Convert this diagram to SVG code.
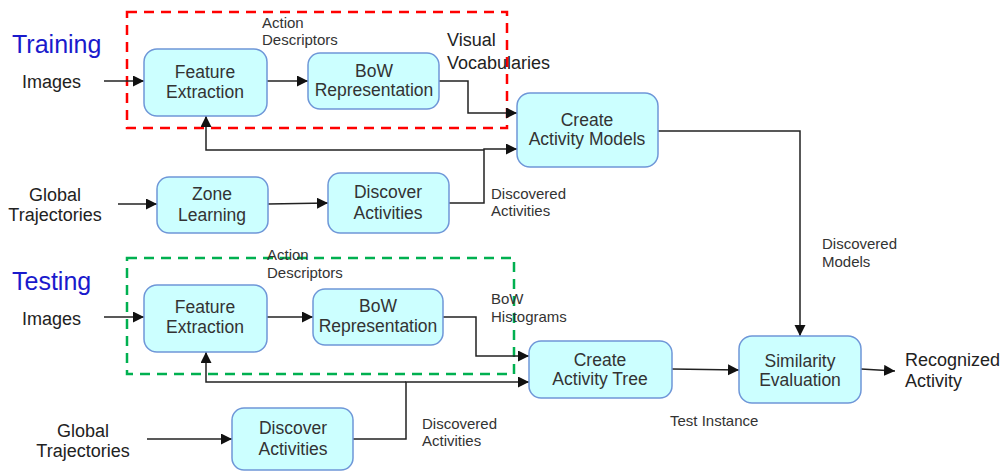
<svg xmlns="http://www.w3.org/2000/svg" width="1004" height="471" viewBox="0 0 1004 471">
<defs>
<marker id="arr" markerUnits="userSpaceOnUse" markerWidth="12" markerHeight="12" refX="11" refY="5.5" orient="auto">
<path d="M0,0 L11,5.5 L0,11 z" fill="#111"/>
</marker>
<style>
.box{fill:#ccffff;stroke:#6f97d8;stroke-width:1.5}
.bt{font-family:"Liberation Sans",Arial,sans-serif;font-size:17.5px;fill:#333;text-anchor:middle}
.lb{font-family:"Liberation Sans",Arial,sans-serif;font-size:15px;fill:#333}
.io{font-family:"Liberation Sans",Arial,sans-serif;font-size:18px;fill:#222}
.hd{font-family:"Liberation Sans",Arial,sans-serif;font-size:25px;fill:#1a1acc}
.c{fill:none;stroke:#222;stroke-width:1.5}
.ca{fill:none;stroke:#222;stroke-width:1.5;marker-end:url(#arr)}
.dash{fill:none;stroke-width:2.5;stroke-dasharray:10 7}
</style>
</defs>
<rect width="1004" height="471" fill="#fff"/>

<g id="groups">
<rect class="dash" x="127" y="12" width="380" height="116" stroke="#ff0000"/>
<rect class="dash" x="127" y="258" width="387" height="116" stroke="#00b050"/>
</g>

<g id="labels">
<text class="hd" x="12" y="53">Training</text>
<text class="hd" x="12" y="290">Testing</text>
<text class="io" x="22" y="88">Images</text>
<text class="io" x="22" y="325">Images</text>
<text class="io" text-anchor="middle"><tspan x="55" y="201">Global</tspan><tspan x="55" y="221">Trajectories</tspan></text>
<text class="io" text-anchor="middle"><tspan x="83" y="437">Global</tspan><tspan x="83" y="457">Trajectories</tspan></text>
<text class="lb"><tspan x="262" y="28">Action</tspan><tspan x="262" y="45">Descriptors</tspan></text>
<text class="lb"><tspan x="267" y="260">Action</tspan><tspan x="267" y="278">Descriptors</tspan></text>
<text class="io" fill="#111"><tspan x="447" y="46">Visual</tspan><tspan x="447" y="69">Vocabularies</tspan></text>
<text class="lb"><tspan x="491" y="199">Discovered</tspan><tspan x="491" y="216">Activities</tspan></text>
<text class="lb"><tspan x="491" y="304">BoW</tspan><tspan x="491" y="322">Histograms</tspan></text>
<text class="lb"><tspan x="422" y="429">Discovered</tspan><tspan x="422" y="446">Activities</tspan></text>
<text class="lb"><tspan x="822" y="249">Discovered</tspan><tspan x="822" y="267">Models</tspan></text>
<text class="lb" x="670" y="426">Test Instance</text>
<text class="io"><tspan x="905" y="366">Recognized</tspan><tspan x="905" y="387">Activity</tspan></text>
</g>

<g id="connectors">
<line class="ca" x1="104" y1="81" x2="144" y2="81"/>
<line class="ca" x1="267" y1="81" x2="308" y2="81"/>
<polyline class="ca" points="439,81 468,81 468,113 517,113"/>
<polyline class="ca" points="484,150 206,150 206,116"/>
<polyline class="ca" points="449,203 484,203 484,149 517,149"/>
<line class="ca" x1="118" y1="204" x2="157" y2="204"/>
<line class="ca" x1="268" y1="204" x2="328" y2="203"/>
<polyline class="ca" points="658,131 800,131 800,336"/>
<line class="ca" x1="104" y1="317" x2="144" y2="317"/>
<line class="ca" x1="267" y1="317" x2="313" y2="317"/>
<polyline class="ca" points="443,317 476,317 476,356 529,356"/>
<polyline class="ca" points="406,382 206,382 206,352"/>
<polyline class="ca" points="353,439 406,439 406,382 529,382"/>
<line class="ca" x1="147" y1="439" x2="232" y2="439"/>
<line class="ca" x1="672" y1="369" x2="739" y2="370"/>
<line class="ca" x1="861" y1="369" x2="895" y2="371"/>
</g>

<g id="fe-train"><rect class="box" x="144" y="49" width="123" height="67" rx="13"/><text class="bt"><tspan x="205" y="78">Feature</tspan><tspan x="205" y="98">Extraction</tspan></text></g>
<g id="bow-train"><rect class="box" x="308" y="53" width="131" height="56" rx="12"/><text class="bt"><tspan x="374" y="77">BoW</tspan><tspan x="374" y="96">Representation</tspan></text></g>
<g id="create-models"><rect class="box" x="517" y="93" width="141" height="74" rx="13"/><text class="bt"><tspan x="587" y="126">Create</tspan><tspan x="587" y="145">Activity Models</tspan></text></g>
<g id="zone"><rect class="box" x="157" y="177" width="111" height="56" rx="12"/><text class="bt"><tspan x="212" y="200">Zone</tspan><tspan x="212" y="221">Learning</tspan></text></g>
<g id="da-train"><rect class="box" x="328" y="173" width="121" height="60" rx="12"/><text class="bt"><tspan x="388" y="198">Discover</tspan><tspan x="388" y="219">Activities</tspan></text></g>
<g id="fe-test"><rect class="box" x="144" y="285" width="123" height="67" rx="13"/><text class="bt"><tspan x="205" y="313">Feature</tspan><tspan x="205" y="333">Extraction</tspan></text></g>
<g id="bow-test"><rect class="box" x="313" y="289" width="130" height="56" rx="12"/><text class="bt"><tspan x="378" y="312">BoW</tspan><tspan x="378" y="332">Representation</tspan></text></g>
<g id="create-tree"><rect class="box" x="529" y="341" width="143" height="57" rx="12"/><text class="bt"><tspan x="600" y="366">Create</tspan><tspan x="600" y="385">Activity Tree</tspan></text></g>
<g id="da-test"><rect class="box" x="232" y="408" width="121" height="62" rx="12"/><text class="bt"><tspan x="293" y="434">Discover</tspan><tspan x="293" y="455">Activities</tspan></text></g>
<g id="similarity"><rect class="box" x="739" y="336" width="122" height="67" rx="13"/><text class="bt"><tspan x="800" y="367">Similarity</tspan><tspan x="800" y="386">Evaluation</tspan></text></g>
</svg>
